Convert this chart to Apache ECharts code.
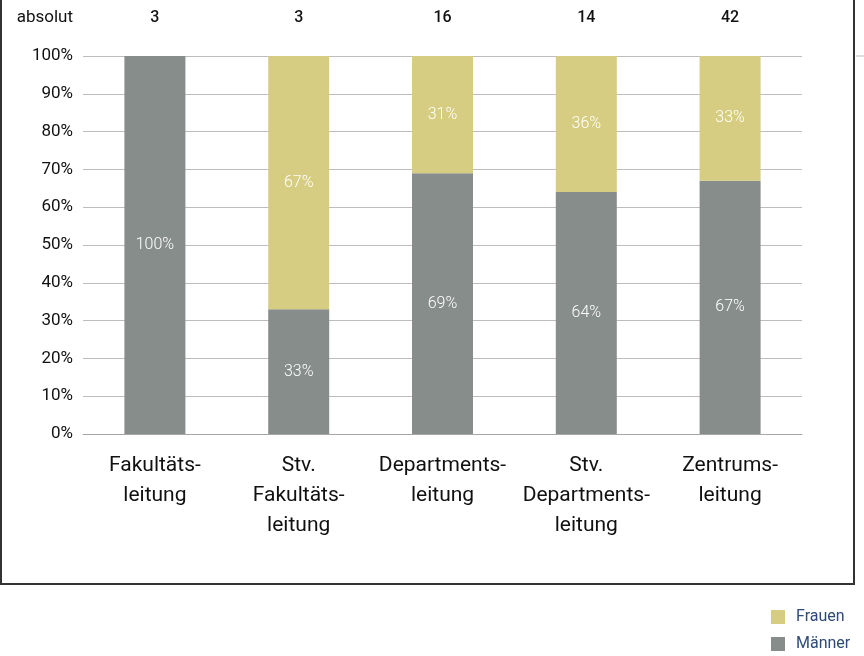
<!DOCTYPE html>
<html lang="de">
<head>
    <meta charset="UTF-8">
    <title>Leitungsfunktionen nach Geschlecht</title>
    <script src="https://cdn.jsdelivr.net/npm/echarts@6/dist/echarts.min.js"></script>
    <style>
        html, body { margin: 0; padding: 0; background: #fff; }
        #chart { width: 864px; height: 656px; }
    </style>
</head>
<body>
<div id="chart"></div>
<script type="text/javascript">
	// Daten
	var categories = ['Fakultäts-\nleitung', 'Stv.\nFakultäts-\nleitung', 'Departments-\nleitung', 'Stv.\nDepartments-\nleitung', 'Zentrums-\nleitung'];
	var absolut = [3, 3, 16, 14, 42];
	var maenner = [100, 33, 69, 64, 67];
	var frauen = [0, 67, 31, 36, 33];
	var yTicks = [0, 10, 20, 30, 40, 50, 60, 70, 80, 90, 100];

	var font = 'Roboto, sans-serif';
	var chart = echarts.init(document.getElementById('chart'));

	var barLabel = {
		show: true,
		position: 'inside',
		color: '#fff',
		fontFamily: font,
		fontSize: 16,
		fontWeight: 300,
		formatter: function (p) {
			return p.value > 0 ? p.value + '%' : '';
		}
	};

	var legendText = {color: '#2e4a78', fontSize: 16, fontFamily: font, padding: [0, 0, 0, 6]};

	var option = {
		animation: false,
		textStyle: {fontFamily: font},
		grid: {left: 83, right: 62, top: 56, bottom: 222},
		legend: [
			{
				left: 771,
				top: 609,
				padding: 0,
				icon: 'rect',
				itemWidth: 14,
				itemHeight: 14,
				data: ['Frauen'],
				textStyle: legendText
			},
			{
				left: 771,
				top: 636,
				padding: 0,
				icon: 'rect',
				itemWidth: 14,
				itemHeight: 14,
				data: ['Männer'],
				textStyle: legendText
			}
		],
		xAxis: [
			{
				type: 'category',
				data: categories,
				axisLine: {lineStyle: {color: '#a6a6a6', width: 1}},
				axisTick: {show: false},
				axisLabel: {color: '#111', fontSize: 21, lineHeight: 30, margin: 17, fontFamily: font, interval: 0}
			},
			{
				type: 'category',
				position: 'top',
				data: absolut,
				axisLine: {show: false},
				axisTick: {show: false},
				axisLabel: {color: '#111', fontSize: 16, fontWeight: 500, margin: 30, fontFamily: font, interval: 0}
			}
		],
		yAxis: {
			type: 'value',
			min: 0,
			max: 100,
			interval: 10,
			name: 'absolut',
			nameLocation: 'end',
			nameGap: 30,
			nameTextStyle: {color: '#111', fontSize: 17, align: 'right', padding: [0, 10, 0, 0], fontFamily: font},
			axisLine: {show: false},
			axisTick: {show: false},
			splitLine: {lineStyle: {color: '#bdbdbd', width: 1}},
			axisLabel: {
				color: '#111',
				fontSize: 17,
				margin: 10,
				fontFamily: font,
				formatter: function (v) {
					return yTicks.indexOf(v) >= 0 ? v + '%' : '';
				}
			}
		},
		series: [
			{
				name: 'Männer',
				type: 'bar',
				stack: 'total',
				barWidth: 61,
				itemStyle: {color: '#878d8a'},
				label: barLabel,
				data: maenner
			},
			{
				name: 'Frauen',
				type: 'bar',
				stack: 'total',
				barWidth: 61,
				itemStyle: {color: '#d6cd82'},
				label: barLabel,
				data: frauen
			}
		],
		graphic: [
			{
				type: 'rect',
				shape: {x: 1, y: -10, width: 853, height: 594},
				style: {fill: 'none', stroke: '#333', lineWidth: 2},
				silent: true
			},
			{
				type: 'line',
				shape: {x1: 856, y1: 56, x2: 864, y2: 56},
				style: {stroke: '#bdbdbd', lineWidth: 1},
				silent: true
			}
		]
	};
	chart.setOption(option);
</script>
</body>
</html>
